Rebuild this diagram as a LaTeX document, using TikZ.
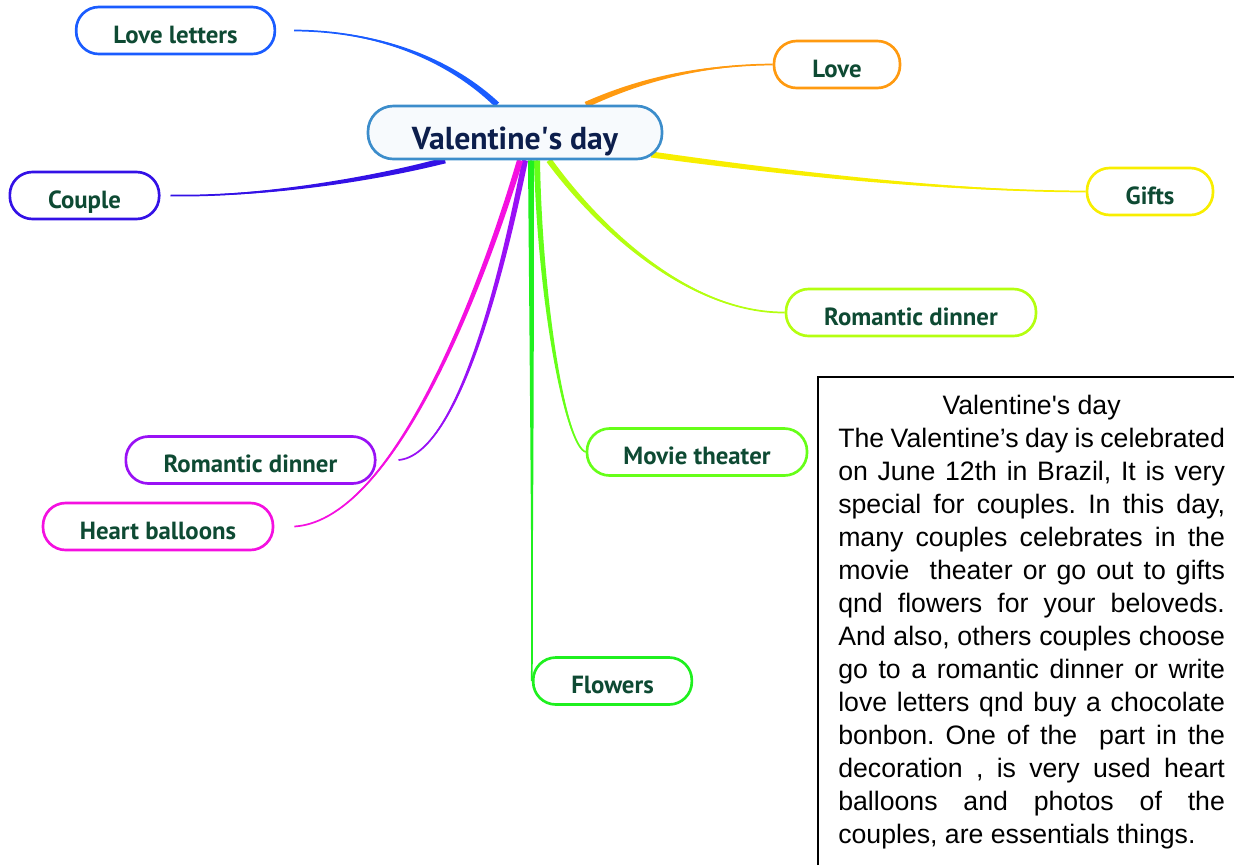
\documentclass[tikz,border=0pt]{standalone}
\usepackage{fontspec}
\setmainfont{Liberation Sans}
\newfontfamily\mapfont{PT Sans}
\usetikzlibrary{positioning,calc,backgrounds}
\frenchspacing

\definecolor{mapgreen}{HTML}{0E4A33}
\definecolor{rootnavy}{HTML}{0C1E4C}
\definecolor{rootblue}{HTML}{3C8DCB}
\definecolor{rootfill}{HTML}{F7FAFD}
\definecolor{cLetters}{HTML}{1A5CFF}
\definecolor{cCouple}{HTML}{3311E6}
\definecolor{cLove}{HTML}{FF9A10}
\definecolor{cGifts}{HTML}{F8EE00}
\definecolor{cDinnerR}{HTML}{B4FF10}
\definecolor{cMovie}{HTML}{66FF18}
\definecolor{cFlowers}{HTML}{1FF01F}
\definecolor{cDinnerL}{HTML}{9911F5}
\definecolor{cBalloons}{HTML}{F410E0}

% tapered branch: colour, start, control 1, control 2, end, half width at start
\newcommand{\branch}[6]{%
  \fill[#1] ($(#2)+(#6)$) .. controls ($#3+0.75*(#6)$) and ($#4+0.4*(#6)$) .. #5
    .. controls ($#4-0.4*(#6)$) and ($#3-0.75*(#6)$) .. ($(#2)-(#6)$) -- cycle;
  \draw[#1, line width=1.3pt] (#2) .. controls #3 and #4 .. #5;}

\begin{document}
\begin{tikzpicture}[x=0.75pt,y=-0.75pt,
  mapnode/.style={draw, line width=2pt, rounded corners=17pt, fill=white,
    minimum height=35.25pt, inner sep=0pt, text=mapgreen,
    text height=18.8pt, text depth=0pt,
    font=\mapfont\bfseries\fontsize{18.6}{21}\selectfont},
  boxline/.style={line width=1.2pt}]

\useasboundingbox (0,0) rectangle (1234,865);

\node[mapnode, draw=rootblue, fill=rootfill, minimum width=220.5pt, minimum height=39.75pt,
  rounded corners=19pt, text=rootnavy, text height=26.2pt,
  font=\mapfont\bfseries\fontsize{23.8}{27}\selectfont]
  (root) at (515,132.5) {Valentine\textquotesingle s day};

\node[mapnode, draw=cLetters, minimum width=149pt] (letters) at (175.5,30.5) {Love letters};
\node[mapnode, draw=cCouple, minimum width=112pt] (couple) at (84.5,195.5) {Couple};
\node[mapnode, draw=cLove, minimum width=94.5pt] (love) at (837,64.5) {Love};
\node[mapnode, draw=cGifts, minimum width=94.5pt] (gifts) at (1150,191.5) {Gifts};
\node[mapnode, draw=cDinnerR, minimum width=187.5pt] (dinnerR) at (911,312.5) {Romantic dinner};
\node[mapnode, draw=cMovie, minimum width=165pt] (movie) at (697,452) {Movie theater};
\node[mapnode, draw=cFlowers, minimum width=119pt] (flowers) at (612.5,681) {Flowers};
\node[mapnode, draw=cDinnerL, minimum width=187pt] (dinnerL) at (250.5,460) {Romantic dinner};
\node[mapnode, draw=cBalloons, minimum width=172.5pt] (balloons) at (158,526.5) {Heart balloons};

\coordinate (s-letters) at ($(root.north)+(-18,0)$);
\coordinate (s-love) at ($(root.north)+(71,0)$);
\coordinate (s-gifts) at ($(root.east)+(-12,22)$);
\coordinate (s-couple) at ($(root.south)+(-70,0)$);
\coordinate (s-dinnerR) at ($(root.south)+(34,0)$);
\coordinate (s-movie) at ($(root.south)+(22,0)$);
\coordinate (s-flowers) at ($(root.south)+(16,0)$);
\coordinate (s-dinnerL) at ($(root.south)+(10,0)$);
\coordinate (s-balloons) at ($(root.south)+(5,0)$);

\begin{scope}[on background layer]
  \branch{cLetters}{s-letters}{(450,60)}{(380,31)}{($(letters.east)+(18,0)$)}{2.1,-2.1}
  \branch{cLove}{s-love}{(640,80)}{(700,65)}{(love.west)}{1.3,2.7}
  \branch{cGifts}{s-gifts}{(800,175)}{(950,191)}{(gifts.west)}{-0.4,3}
  \branch{cCouple}{s-couple}{(370,180)}{(260,197)}{($(couple.east)+(10,0)$)}{0.8,2.9}
  \branch{cDinnerR}{s-dinnerR}{(600,230)}{(690,313)}{(dinnerR.west)}{2.4,-1.7}
  \branch{cMovie}{s-movie}{(540,300)}{(565,445)}{(movie.west)}{3,0}
  \branch{cFlowers}{s-flowers}{(531.7,333)}{(532.3,507)}{(flowers.west)}{3,0}
  \branch{cDinnerL}{s-dinnerL}{(505,260)}{(460,455)}{($(dinnerL.east)+(22,0)$)}{2.9,0.6}
  \branch{cBalloons}{s-balloons}{(490,260)}{(400,520)}{($(balloons.east)+(20,0)$)}{2.9,0.9}
\end{scope}

% note box
\draw[boxline] (818,865) -- (818,377) -- (1234,377);
\node[anchor=base west, text width=290pt, align=justify, inner sep=0pt,
  font=\fontsize{20}{24.75}\selectfont] (story) at (838,414)
  {\makebox[290pt][c]{Valentine\textquotesingle s day}\\
  The Valentine’s day is celebrated\linebreak
  on June 12th in Brazil, It is very\linebreak
  special for couples. In this day,\linebreak
  many couples celebrates in the\linebreak
  movie\ \ theater or go out to gifts\linebreak
  qnd flowers for your beloveds.\linebreak
  And also, others couples choose\linebreak
  go to a romantic dinner or write\linebreak
  love letters qnd buy a chocolate\linebreak
  bonbon. One of the\ \ part in the\linebreak
  decoration , is very used heart\linebreak
  balloons and photos of the\linebreak
  couples, are essentials things.};
\end{tikzpicture}
\end{document}
